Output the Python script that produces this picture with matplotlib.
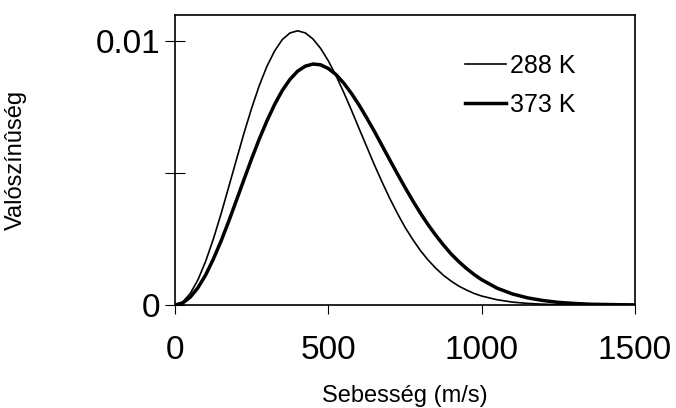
import matplotlib
matplotlib.use('Agg')
from matplotlib import pyplot as plt

plt.rcParams['font.family'] = ['Liberation Sans', 'DejaVu Sans']

# speed (m/s) and probability
speed = [0, 25, 50, 75, 100, 125, 150, 175, 200, 225, 250, 275, 300, 325, 350,
         375, 400, 425, 450, 475, 500, 525, 550, 575, 600, 625, 650, 675, 700,
         725, 750, 775, 800, 825, 850, 875, 900, 925, 950, 975, 1000,
         1050, 1100, 1150, 1200, 1250, 1300, 1350, 1400, 1450, 1500]
p_288 = [0, 0.00011, 0.00044, 0.00096, 0.00166, 0.00250, 0.00345, 0.00447,
         0.00550, 0.00652, 0.00747, 0.00833, 0.00906, 0.00964, 0.01007,
         0.01032, 0.01040, 0.01032, 0.01009, 0.00973, 0.00926, 0.00870,
         0.00807, 0.00740, 0.00670, 0.00601, 0.00532, 0.00467, 0.00405,
         0.00348, 0.00295, 0.00249, 0.00207, 0.00171, 0.00140, 0.00113,
         0.00091, 0.00072, 0.00057, 0.00044, 0.00034,
         0.00020, 0.00011, 0.00006, 0.00003, 0.000015, 0.000008, 0.000004,
         0.000002, 0.000001, 0]
p_373 = [0, 0.000075, 0.00030, 0.00066, 0.00114, 0.00174, 0.00242, 0.00317,
         0.00396, 0.00476, 0.00555, 0.00630, 0.00699, 0.00761, 0.00814,
         0.00856, 0.00887, 0.00906, 0.00914, 0.00911, 0.00897, 0.00874,
         0.00842, 0.00803, 0.00759, 0.00710, 0.00659, 0.00605, 0.00551,
         0.00498, 0.00446, 0.00396, 0.00349, 0.00305, 0.00265, 0.00228,
         0.00194, 0.00165, 0.00139, 0.00116, 0.00096,
         0.00064, 0.00042, 0.00027, 0.00017, 0.00010, 0.00006, 0.00003,
         0.00002, 0.00001, 0.000005]

x_ticks = [0, 500, 1000, 1500]
y_ticks = [0, 0.005, 0.01]
y_tick_labels = ['0', '', '0.01']

fig = plt.figure(figsize=(6.76, 4.08), dpi=100)
ax = fig.add_axes([175 / 676, 1 - 305 / 408, 460 / 676, 290 / 408])

ax.plot(speed, p_288, color='black', lw=1.2, label='288 K')
ax.plot(speed, p_373, color='black', lw=2.5, label='373 K')

ax.set_xlim(0, 1500)
ax.set_ylim(0, 0.0110)
ax.set_xticks(x_ticks)
ax.set_xticklabels([str(t) for t in x_ticks])
ax.set_yticks(y_ticks)
ax.set_yticklabels(y_tick_labels)

for s in ax.spines.values():
    s.set_linewidth(1.2)
ax.tick_params(axis='x', direction='out', length=6.5, width=0.8, pad=15, labelsize=24)
ax.tick_params(axis='y', direction='inout', length=15, width=0.8, pad=3, labelsize=24)

ax.set_xlabel('Sebesség (m/s)', fontsize=17)
ax.set_ylabel('Valószínûség', fontsize=17)
ax.xaxis.set_label_coords(0.5, -0.275)
ax.yaxis.set_label_coords(-0.322, 0.5)

ax.legend(loc='upper left', bbox_to_anchor=(0.63, 0.865), frameon=False,
          fontsize=18, handlelength=1.65, handletextpad=0.15, borderpad=0,
          borderaxespad=0, labelspacing=0.6)

plt.savefig('out.png', dpi=100)
